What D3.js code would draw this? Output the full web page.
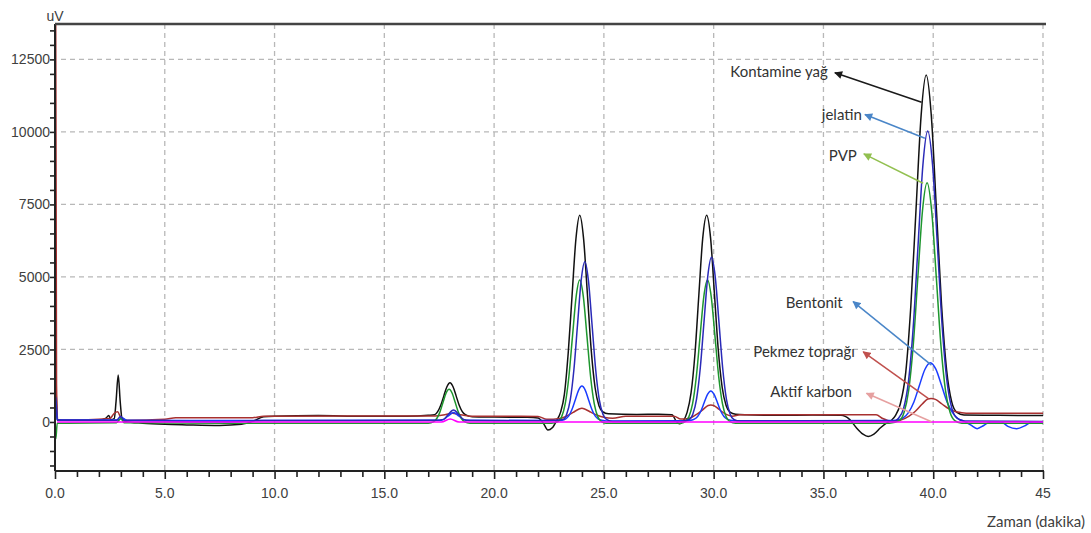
<!DOCTYPE html>
<html>
<head>
<meta charset="utf-8">
<script src="https://cdnjs.cloudflare.com/ajax/libs/d3/7.8.5/d3.min.js"></script>
<style>
  body { margin: 0; background: #fff; }
  svg { display: block; }
</style>
</head>
<body>
<div id="chart"></div>
<script>
// chromatogram traces, [time (min), signal (uV)]
const kontamineYag = [[0,0],[0.04,1200],[0.1,60],[0.6,60],[1.0,80],[2.0,60],[2.3,120],[2.45,220],[2.55,80],[2.7,120],[2.78,700],[2.88,1620],[2.97,700],[3.05,120],[3.2,20],[4.0,-40],[5.0,-80],[6.0,-100],[7.5,-120],[8.5,-80],[9.0,20],[9.5,180],[10.0,200],[12.0,220],[14.0,200],[16.0,200],[17.0,230],
  [17.29,250],[17.43,355],[17.57,575],[17.71,900],[17.85,1215],[17.99,1355],[18.13,1215],[18.27,900],[18.41,575],[18.55,355],[18.69,250],[19.0,180],[20,170],[21.5,160],[22.0,140],[22.25,-50],[22.45,-280],[22.65,-200],[22.85,50],
  [23.025,330],[23.2,950],[23.375,2380],[23.55,4350],[23.725,6300],[23.9,7130],[24.075,6320],[24.25,4400],[24.425,2460],[24.6,1180],[24.775,560],[24.95,350],[25.2,280],[26.5,260],[27.5,270],[28.1,250],[28.3,20],[28.45,-60],
  [28.615,40],[28.79,330],[28.97,1000],[29.15,2370],[29.325,4380],[29.5,6320],[29.68,7130],[29.86,6340],[30.035,4420],[30.21,2480],[30.39,1180],[30.57,560],[30.745,340],[31.0,270],[31.5,250],[33,230],[34.5,240],[35.8,230],[36.2,80],[36.5,-200],[36.8,-420],[37.04,-500],[37.3,-420],[37.6,-200],[37.9,-20],[38.1,60],
  [38.285,230],[38.5,620],[38.75,1720],[38.98,4000],[39.215,7300],[39.45,10580],[39.68,11960],[39.91,10590],[40.145,7330],[40.38,4020],[40.61,1790],[40.84,700],[41.075,330],[41.4,240],[43,230],[45,220]];

const jelatin = [[0,0],[0.04,850],[0.1,80],[0.5,60],[2.8,60],[3.0,200],[3.15,40],[5,30],[8,10],[9.5,50],[17.3,60],[17.7,90],[17.9,250],[18.15,410],[18.4,250],[18.6,90],[18.9,50],[22.5,40],
  [23.14,90],[23.305,270],[23.47,770],[23.635,1810],[23.8,3360],[23.965,4880],[24.13,5525],[24.295,4880],[24.46,3360],[24.625,1810],[24.79,770],[24.955,270],[25.12,90],[25.4,20],[28.5,20],
  [28.88,85],[29.05,270],[29.22,790],[29.39,1860],[29.56,3450],[29.73,5010],[29.9,5675],[30.07,5010],[30.24,3450],[30.41,1860],[30.58,790],[30.75,270],[30.92,85],[31.2,30],[36,40],[38.2,30],
  [38.43,140],[38.65,470],[38.87,1380],[39.09,3280],[39.31,6100],[39.53,8860],[39.75,10030],[39.97,8860],[40.19,6100],[40.41,3280],[40.63,1380],[40.85,470],[41.07,140],[41.4,30],[45,20]];

const pvp = [[0,0],[0.04,-580],[0.1,-40],[0.5,-40],[2.8,-30],[3.0,120],[3.15,-30],[8,-40],[17.0,-40],
  [17.25,10],[17.39,120],[17.53,340],[17.67,670],[17.81,990],[17.95,1125],[18.09,990],[18.23,670],[18.37,340],[18.51,120],[18.65,10],[18.9,-40],[22.6,-40],
  [22.91,15],[23.075,175],[23.24,630],[23.405,1560],[23.57,2950],[23.735,4315],[23.9,4894],[24.065,4315],[24.23,2950],[24.395,1560],[24.56,630],[24.725,175],[24.89,15],[25.1,-40],[28.5,-40],
  [28.7,15],[28.87,175],[29.04,630],[29.21,1560],[29.38,2950],[29.55,4315],[29.72,4894],[29.89,4315],[30.06,2950],[30.23,1560],[30.4,630],[30.57,175],[30.74,15],[31.0,-40],[38.0,-40],
  [38.46,50],[38.67,325],[38.88,1080],[39.09,2650],[39.3,4990],[39.51,7275],[39.72,8250],[39.93,7275],[40.14,4990],[40.35,2650],[40.56,1080],[40.77,325],[40.98,50],[41.3,-40],[45,-40]];

const bentonit = [[0,0],[0.04,700],[0.1,80],[0.5,70],[2.9,70],[3.05,150],[3.25,60],[8,50],[17.6,60],[17.9,200],[18.15,330],[18.4,200],[18.7,60],[22.8,50],
  [23.1,63],[23.25,100],[23.4,210],[23.55,440],[23.7,770],[23.85,1100],[24.0,1240],[24.15,1100],[24.3,770],[24.45,440],[24.6,210],[24.75,100],[24.9,63],[25.3,30],[28.6,40],
  [28.97,61],[29.12,95],[29.27,190],[29.42,380],[29.57,670],[29.72,950],[29.87,1070],[30.02,950],[30.17,670],[30.32,380],[30.47,190],[30.62,95],[30.77,61],[31.1,40],[38.0,50],
  [38.37,70],[38.62,130],[38.87,320],[39.12,690],[39.37,1260],[39.62,1810],[39.87,2045],[40.12,1820],[40.37,1280],[40.62,710],[40.87,330],[41.12,120],[41.4,30],[41.7,-100],[42.0,-230],[42.3,-120],[42.6,0],[43.1,0],[43.4,-150],[43.8,-230],[44.2,-120],[44.5,0],[45,0]];

const pekmezTopragi = [[0,0],[0.03,14500],[0.07,1300],[0.12,80],[1.5,80],[2.5,120],[2.7,300],[2.85,350],[3.0,150],[3.3,60],[5.0,90],[5.5,150],[9,150],[9.5,200],[17.3,210],[17.8,260],[18.1,300],[18.4,260],[18.9,200],[22.0,190],[22.4,90],
  [23.0,120],[23.3,200],[23.6,330],[23.85,440],[24.0,472],[24.15,440],[24.4,340],[24.7,230],[25.0,160],[25.4,130],[26.0,200],[28.2,200],[28.5,100],
  [28.9,130],[29.2,250],[29.5,420],[29.75,570],[29.87,586],[30.0,570],[30.25,430],[30.55,270],[30.85,200],[31.2,250],[37.4,250],[37.7,120],[38.1,30],[38.5,60],
  [38.9,200],[39.2,380],[39.5,620],[39.75,790],[39.9,810],[40.1,780],[40.4,620],[40.7,460],[41.0,360],[41.3,320],[41.7,300],[45,300]];

const aktifKarbon = [[0.1,0],[17.6,0],[18.0,100],[18.4,0],[45,0]];

// axis ticks
const xMajorTicks = [0, 5, 10, 15, 20, 25, 30, 35, 40, 45];
const xTickLabels = ["0.0", "5.0", "10.0", "15.0", "20.0", "25.0", "30.0", "35.0", "40.0", "45"];
const yMajorTicks = [0, 2500, 5000, 7500, 10000, 12500];

// annotation labels: text, label anchor (right edge), arrow tip, arrow start (on the peak)
const annotLabels = ["Kontamine yağ", "jelatin", "PVP", "Bentonit", "Pekmez toprağı", "Aktif karbon"];
const annotText = [[35.2, 12060], [36.75, 10600], [36.52, 9170], [35.88, 4110], [36.43, 2420], [36.3, 1045]];
const annotTip = [[35.52, 12040], [36.89, 10600], [36.84, 9240], [36.35, 4150], [36.81, 2420], [36.96, 990]];
const annotStart = [[39.47, 11020], [39.62, 9780], [39.54, 8230], [39.92, 1960], [39.77, 815], [39.92, 10]];
const annotColors = ["#1a1a1a", "#4a86c8", "#92c050", "#4a86c8", "#c0504d", "#e6a0a0"];

const width = 1091, height = 533;
const margin = {top: 24, right: 48, bottom: 62, left: 55};

const svg = d3.select("#chart").append("svg")
    .attr("width", width)
    .attr("height", height);

const x = d3.scaleLinear().domain([0, 45]).range([margin.left, width - margin.right]);
const y = d3.scaleLinear().domain([-1690, 13720]).range([height - margin.bottom, margin.top]);

svg.append("defs").append("clipPath").attr("id", "plot-clip")
    .append("rect")
    .attr("x", margin.left)
    .attr("y", margin.top)
    .attr("width", width - margin.left - margin.right)
    .attr("height", height - margin.top - margin.bottom);

//dashed grid
svg.append("g").selectAll("line").data(xMajorTicks.slice(1)).join("line")
    .attr("x1", d => x(d)).attr("x2", d => x(d))
    .attr("y1", margin.top).attr("y2", height - margin.bottom)
    .attr("stroke", "#b8b8b8").attr("stroke-width", 1.3).attr("stroke-dasharray", "5,4");

svg.append("g").selectAll("line").data(yMajorTicks.slice(1)).join("line")
    .attr("x1", margin.left + 6).attr("x2", width - margin.right)
    .attr("y1", d => y(d)).attr("y2", d => y(d))
    .attr("stroke", "#b8b8b8").attr("stroke-width", 1.3).attr("stroke-dasharray", "5,4");

// traces
const line = d3.line()
    .x(d => x(d[0]))
    .y(d => y(d[1]))
    .curve(d3.curveMonotoneX);

const traces = [
    {data: kontamineYag, color: "#111111"},
    {data: pekmezTopragi, color: "#a83030"},
    {data: bentonit, color: "#1a3cff"},
    {data: pvp, color: "#1e962e"},
    {data: jelatin, color: "#2a2ab8"},
    {data: aktifKarbon, color: "#ff00ff"}
];

const plot = svg.append("g").attr("clip-path", "url(#plot-clip)");
plot.selectAll("path").data(traces).join("path")
    .attr("d", d => line(d.data))
    .attr("fill", "none")
    .attr("stroke", d => d.color)
    .attr("stroke-width", 1.5)
    .attr("stroke-linejoin", "round");

// axes
const yAxis = svg.append("g")
    .attr("transform", `translate(${margin.left},0)`)
    .call(d3.axisLeft(y).tickValues(d3.range(-1500, 13501, 500)).tickSize(5).tickFormat(""));
yAxis.select(".domain").remove();
yAxis.selectAll(".tick line").attr("stroke", "#222").attr("stroke-width", 1.6);

svg.append("g").selectAll("text").data(yMajorTicks).join("text")
    .attr("x", margin.left - 5)
    .attr("y", d => y(d))
    .attr("dy", "0.36em")
    .attr("text-anchor", "end")
    .style("font-family", "Liberation Sans, Arial, sans-serif")
    .style("font-size", "14px")
    .attr("fill", "#404040")
    .text(d => d);

const xAxis = svg.append("g")
    .attr("transform", `translate(0,${height - margin.bottom})`)
    .call(d3.axisBottom(x).tickValues(d3.range(0, 46, 1)).tickSize(6).tickFormat(""));
xAxis.select(".domain").remove();
xAxis.selectAll(".tick line")
    .attr("stroke", "#222").attr("stroke-width", 1.6)
    .attr("y2", d => d % 5 === 0 ? 8 : 6);

svg.append("g").selectAll("text").data(xMajorTicks).join("text")
    .attr("x", d => x(d))
    .attr("y", height - margin.bottom + 27)
    .attr("text-anchor", "middle")
    .style("font-family", "Liberation Sans, Arial, sans-serif")
    .style("font-size", "14px")
    .attr("fill", "#404040")
    .text((d, i) => xTickLabels[i]);

// frame: left + bottom axis lines, top border
svg.append("line")
    .attr("x1", margin.left).attr("x2", margin.left)
    .attr("y1", margin.top).attr("y2", height - margin.bottom)
    .attr("stroke", "#222").attr("stroke-width", 2);
svg.append("line")
    .attr("x1", margin.left).attr("x2", width - margin.right + 1)
    .attr("y1", height - margin.bottom).attr("y2", height - margin.bottom)
    .attr("stroke", "#222").attr("stroke-width", 2);
svg.append("line")
    .attr("x1", margin.left).attr("x2", width - margin.right + 3)
    .attr("y1", margin.top).attr("y2", margin.top)
    .attr("stroke", "#444").attr("stroke-width", 2.5);

svg.append("text")
    .attr("x", margin.left)
    .attr("y", margin.top - 3)
    .attr("text-anchor", "middle")
    .style("font-family", "Liberation Sans, Arial, sans-serif")
    .style("font-size", "14px")
    .attr("fill", "#404040")
    .text("uV");

svg.append("text")
    .attr("x", width - 6)
    .attr("y", height - 6)
    .attr("text-anchor", "end")
    .style("font-family", "Lato, sans-serif")
    .style("font-size", "15px")
    .attr("fill", "#404040")
    .text("Zaman (dakika)");

// annotation arrows
const defs = svg.select("defs");
annotColors.forEach((c, i) => {
    defs.append("marker")
        .attr("id", `arrow${i}`)
        .attr("viewBox", "0 0 10 10")
        .attr("refX", 9).attr("refY", 5)
        .attr("markerWidth", 9).attr("markerHeight", 8)
        .attr("markerUnits", "userSpaceOnUse")
        .attr("orient", "auto")
        .append("path")
        .attr("d", "M0,0 L10,5 L0,10 z")
        .attr("fill", c);
});

const annot = svg.append("g");
annot.selectAll("line").data(annotLabels).join("line")
    .attr("x1", (d, i) => x(annotStart[i][0]))
    .attr("y1", (d, i) => y(annotStart[i][1]))
    .attr("x2", (d, i) => x(annotTip[i][0]))
    .attr("y2", (d, i) => y(annotTip[i][1]))
    .attr("stroke", (d, i) => annotColors[i])
    .attr("stroke-width", 1.5)
    .attr("marker-end", (d, i) => `url(#arrow${i})`);

annot.selectAll("text").data(annotLabels).join("text")
    .attr("x", (d, i) => x(annotText[i][0]))
    .attr("y", (d, i) => y(annotText[i][1]))
    .attr("dy", "0.35em")
    .attr("text-anchor", "end")
    .style("font-family", "Lato, sans-serif")
    .style("font-size", "15px")
    .attr("fill", "#333")
    .text(d => d);
</script>
</body>
</html>
